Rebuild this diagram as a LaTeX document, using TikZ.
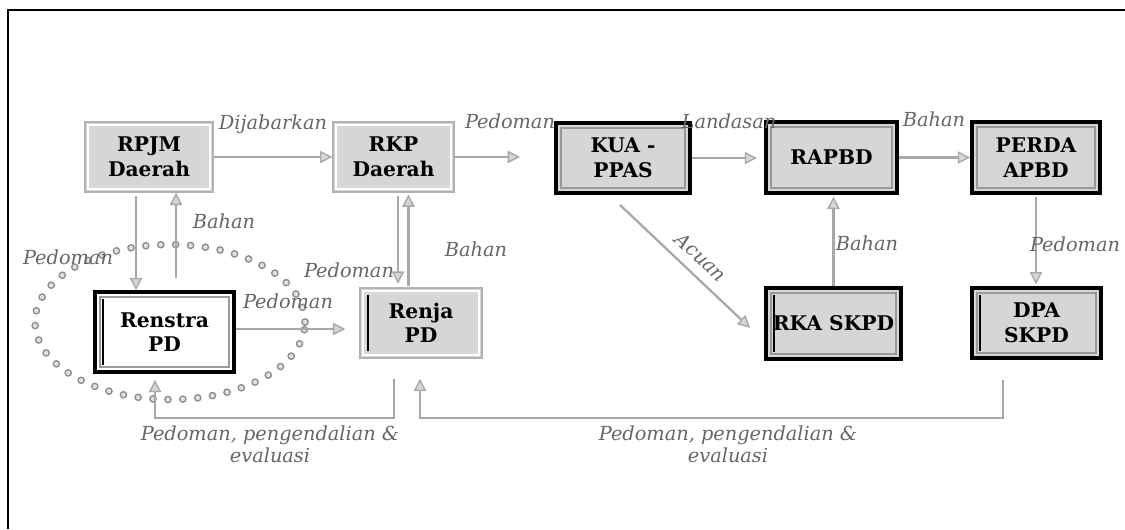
\documentclass[tikz,border=0pt]{standalone}
\usepackage{fontspec}
\setmainfont{DejaVu Serif}
\usetikzlibrary{arrows.meta}
\definecolor{boxgray}{HTML}{D6D6D6}
\definecolor{linegray}{HTML}{A8A8A8}
\definecolor{labelgray}{HTML}{666666}
\newcommand{\pdframe}[2]{\draw[#1, line width=0.8pt] ([shift={(#2,#2)}]path picture bounding box.south west) rectangle ([shift={(-#2,-#2)}]path picture bounding box.north east);}
\newcommand{\pdbar}{\draw[black, line width=1.2pt] ([shift={(4.5pt,4pt)}]path picture bounding box.south west) -- ([shift={(4.5pt,-4pt)}]path picture bounding box.north west);}
\tikzset{
  box/.style={align=center, inner sep=0pt, fill=boxgray,
    font=\fontsize{11.5}{14}\selectfont\bfseries},
  softbox/.style={box, draw=black!30, line width=0.8pt,
    path picture={\pdframe{white}{1.6pt}\pdframe{black!15}{3pt}}},
  softbar/.style={softbox,
    path picture={\pdframe{white}{1.6pt}\pdframe{black!15}{3pt}\pdbar}},
  hardbox/.style={box, draw=black, line width=2.2pt,
    path picture={\pdframe{black!40}{2.8pt}}},
  barbox/.style={hardbox,
    path picture={\pdframe{black!40}{2.8pt}\pdbar}},
  flow/.style={draw=linegray, line width=1.3pt,
    -{Triangle[open, fill=boxgray, length=7pt, width=7pt, line width=0.8pt]}},
  lbl/.style={font=\fontsize{11}{12.5}\selectfont\itshape, text=labelgray, inner sep=1pt, align=center}
}
\begin{document}
\begin{tikzpicture}
\useasboundingbox (0,0) rectangle (22.5,10.58);
\draw[line width=0.9pt] (0.16,0) -- (0.16,10.38) -- (22.5,10.38);

% dotted ring round Renstra
\draw[black!45, line width=4.4pt, line cap=round, dash pattern=on 0pt off 8.5pt] (3.4,4.14) ellipse (2.7cm and 1.55cm);
\draw[black!12, line width=2.6pt, line cap=round, dash pattern=on 0pt off 8.5pt] (3.4,4.14) ellipse (2.7cm and 1.55cm);

\node[softbox, minimum width=2.56cm, minimum height=1.4cm] (rpjm) at (2.98,7.44) {RPJM\\Daerah};
\node[softbox, minimum width=2.42cm, minimum height=1.4cm] (rkp) at (7.87,7.44) {RKP\\Daerah};
\node[hardbox, minimum width=2.68cm, minimum height=1.4cm] (kua) at (12.46,7.42) {KUA -\\PPAS};
\node[hardbox, minimum width=2.62cm, minimum height=1.42cm] (rapbd) at (16.63,7.43) {RAPBD};
\node[hardbox, minimum width=2.56cm, minimum height=1.42cm] (perda) at (20.72,7.43) {PERDA\\APBD};
\node[barbox, fill=white, minimum width=2.78cm, minimum height=1.6cm] (renstra) at (3.29,3.94) {Renstra\\PD};
\node[softbar, minimum width=2.44cm, minimum height=1.4cm] (renja) at (8.42,4.12) {Renja\\PD};
\node[barbox, minimum width=2.7cm, minimum height=1.42cm] (rka) at (16.67,4.11) {RKA SKPD};
\node[barbox, minimum width=2.58cm, minimum height=1.4cm] (dpa) at (20.73,4.12) {DPA\\SKPD};
\coordinate (kuain) at (10.4,7.44);

\draw[flow] (rpjm.east) -- (rkp.west);
\draw[flow] (rkp.east) -- (kuain);
\draw[flow, shorten >=4pt] (kua.east) -- (kua.east -| rapbd.west);
\draw[flow] (rapbd.east) -- (rapbd.east -| perda.west);
\draw[flow, shorten <=2pt] ([xshift=-0.26cm]rpjm.south) -- ([xshift=-0.26cm]rpjm.south |- renstra.north);
\draw[flow, shorten <=7pt] ([xshift=0.54cm]rpjm.south |- renstra.north) -- ([xshift=0.54cm]rpjm.south);
\draw[flow, shorten <=2pt, shorten >=2pt] ([xshift=0.09cm]rkp.south) -- ([xshift=0.09cm]rkp.south |- renja.north);
\draw[flow, shorten <=1pt, shorten >=1pt] ([xshift=0.3cm]rkp.south |- renja.north) -- ([xshift=0.3cm]rkp.south);
\draw[flow, shorten >=8pt] ([yshift=0.06cm]renstra.east) -- ([yshift=0.06cm]renstra.east -| renja.west);
\draw[flow] ([xshift=-0.06cm,yshift=-0.2cm]kua.south) -- ([xshift=-0.28cm,yshift=-0.09cm]rka.west);
\draw[flow, shorten >=1pt] (rka.north) -- (rka.north |- rapbd.south);
\draw[flow, shorten <=1pt, shorten >=1pt] (perda.south) -- (perda.south |- dpa.north);
\draw[flow] ([xshift=-0.54cm,yshift=-0.4cm]renja.south) -- ++(0,-0.78) -| ([xshift=-0.19cm,yshift=-0.12cm]renstra.south);
\draw[flow] ([xshift=-0.67cm,yshift=-0.4cm]dpa.south) -- ++(0,-0.76) -| ([xshift=-0.02cm,yshift=-0.4cm]renja.south);

\node[lbl] (ldijabar) at (5.46,8.1) {Dijabarkan};
\node[lbl] (lpedkua) at (10.2,8.16) {Pedoman};
\node[lbl] (llandas) at (14.58,8.16) {Landasan};
\node[lbl] (lbahanperda) at (18.68,8.2) {Bahan};
\node[lbl] (lpedrenstra) at (1.36,5.44) {Pedoman};
\node[lbl] (lbahanrpjm) at (4.48,6.16) {Bahan};
\node[lbl] (lpedrenja) at (6.98,5.18) {Pedoman};
\node[lbl] (lbahanrkp) at (9.52,5.6) {Bahan};
\node[lbl] (lpedkanan) at (5.76,4.56) {Pedoman};
\node[lbl, rotate=-43] (lacuan) at (14.02,5.44) {Acuan};
\node[lbl] (lbahanrapbd) at (17.34,5.72) {Bahan};
\node[lbl] (lpeddpa) at (21.5,5.7) {Pedoman};
\node[lbl] (levalkiri) at (5.4,1.7) {Pedoman, pengendalian \&\\evaluasi};
\node[lbl] (levalkanan) at (14.56,1.7) {Pedoman, pengendalian \&\\evaluasi};
\end{tikzpicture}
\end{document}
